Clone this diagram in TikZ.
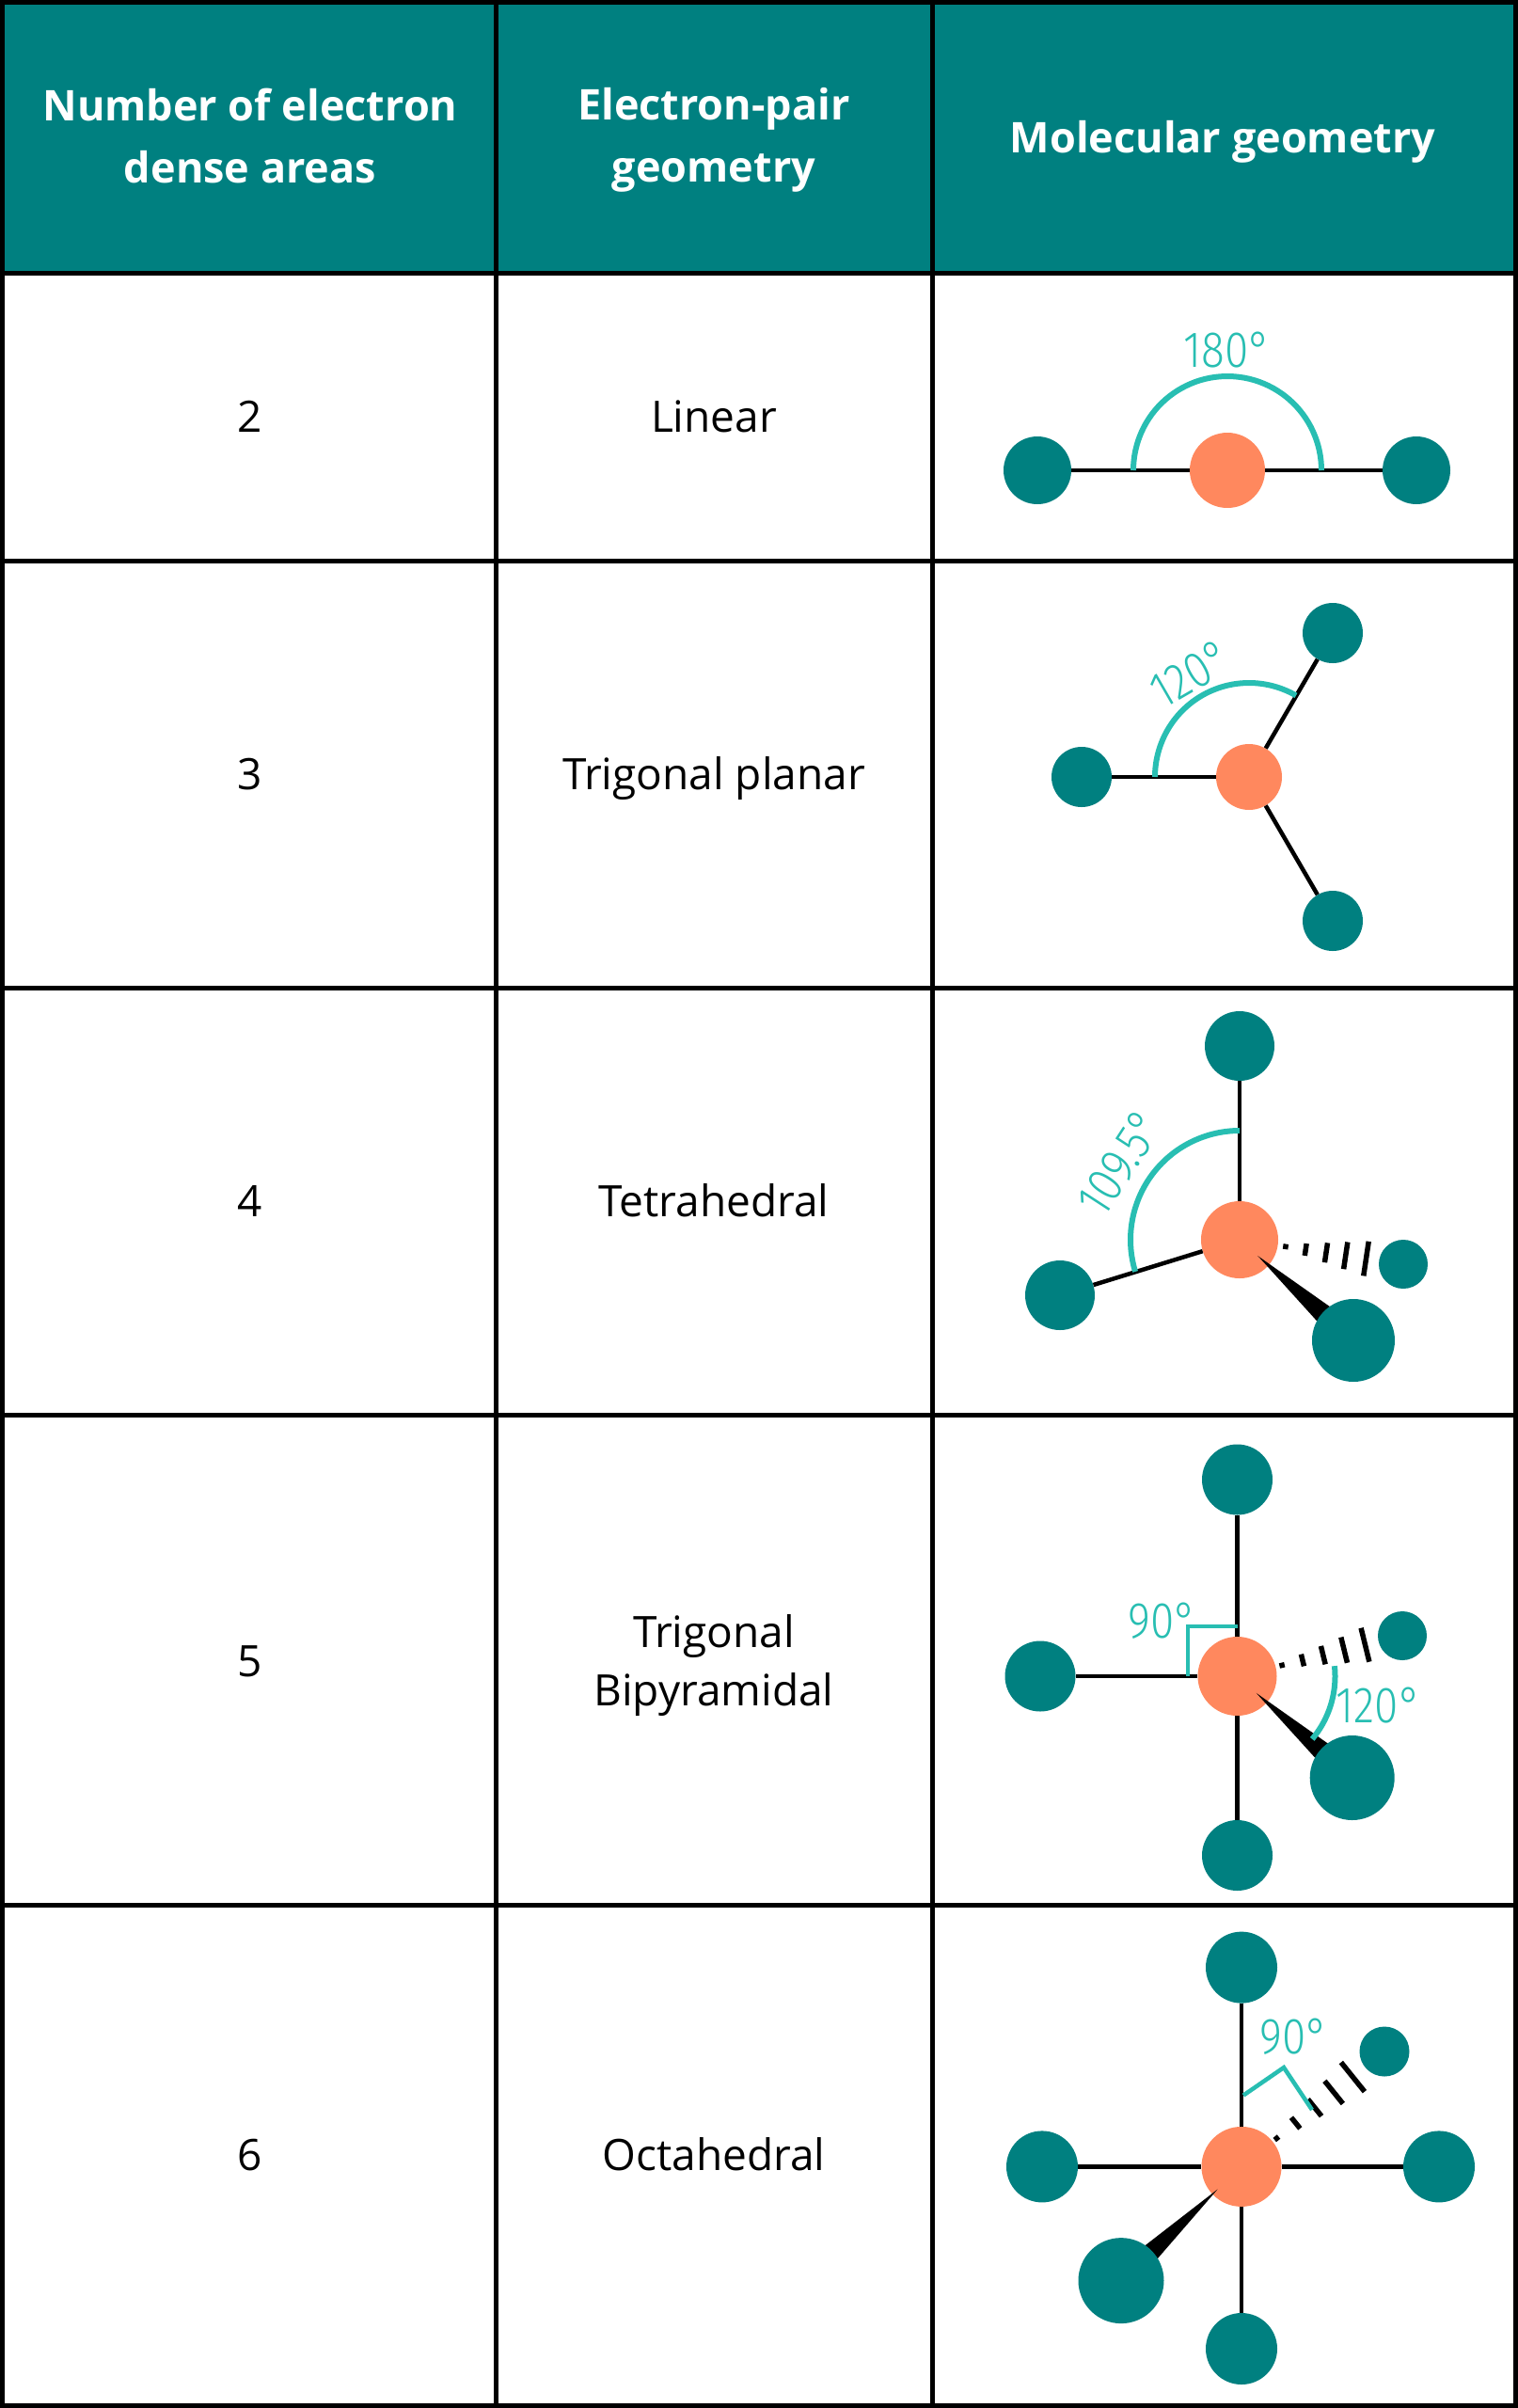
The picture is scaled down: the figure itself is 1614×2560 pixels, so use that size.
\documentclass[tikz,border=0pt]{standalone}
\usepackage{fontspec}
\setmainfont{Open Sans}
\newfontfamily\degfont{Fira Sans Light}[FakeStretch=0.85]
\usetikzlibrary{calc}
\definecolor{hdrteal}{RGB}{0,128,128}
\definecolor{atomteal}{RGB}{0,128,128}
\definecolor{corange}{RGB}{255,136,94}
\definecolor{arcturq}{RGB}{40,190,178}
\begin{document}
\begin{tikzpicture}[x=1pt,y=-1pt,
  atom/.style={circle,fill=atomteal,inner sep=0pt,minimum size=2*#1},
  catom/.style={circle,fill=corange,inner sep=0pt,minimum size=2*#1},
  bond/.style={line width=4.5pt,black},
  hashd/.style={line width=5.5pt,black},
  wedgef/.style={fill=black},
  anglearc/.style={line width=6pt,arcturq},
  rmark/.style={line width=4.5pt,arcturq},
  deg/.style={text=arcturq,font=\degfont\fontsize{54}{60}\selectfont,inner sep=0pt},
  cell/.style={font=\fontsize{46}{62}\selectfont,align=center,inner sep=0pt,text=black},
  hdr/.style={font=\bfseries\fontsize{45}{66}\selectfont,align=center,inner sep=0pt,text=white},
  gridl/.style={line width=5pt,black}
]
\useasboundingbox (0,0) rectangle (1614,2560);
\fill[white] (0,0) rectangle (1614,2560);
\fill[hdrteal] (0,0) rectangle (1614,290);
% grid
\draw[gridl] (2.5,2.5) rectangle (1611.5,2557.5);
\draw[gridl] (527,0) -- (527,2560);
\draw[gridl] (991,0) -- (991,2560);
\foreach \yy in {290,596,1050,1504,2025} \draw[gridl] (0,\yy) -- (1614,\yy);

% header
\node[hdr] (h1) at (266,144) {Number of electron\\dense areas};
\node[hdr] (h2) at (759,149) {Electron-pair\\geometry};
\node[hdr,anchor=base] (h3) at (1300,162) {Molecular geometry};

% column texts
\node[cell,anchor=base] (n2) at (266,459.5) {2};
\node[cell,anchor=base] (g2) at (759,459.5) {Linear};
\node[cell,anchor=base] (n3) at (266,839.5) {3};
\node[cell,anchor=base] (g3) at (759,839.5) {Trigonal planar};
\node[cell,anchor=base] (n4) at (266,1293.5) {4};
\node[cell,anchor=base] (g4) at (759,1293.5) {Tetrahedral};
\node[cell,anchor=base] (n5) at (266,1782) {5};
\node[cell] (g5) at (759,1771) {Trigonal\\Bipyramidal};
\node[cell,anchor=base] (n6) at (266,2307) {6};
\node[cell,anchor=base] (g6) at (759,2307) {Octahedral};

% ---- row 2: linear
\node[catom=40] (C2) at (1305,500) {};
\node[atom=36] (L2) at (1103,500) {};
\node[atom=36] (R2) at (1506,500) {};
\draw[bond] (L2) -- (C2);
\draw[bond] (C2) -- (R2);
\draw[anglearc] plot[domain=180:0,samples=60] ({1305+100*cos(\x)},{500-100*sin(\x)});
\node[deg] (d2) at (1305,372) {180°};

% ---- row 3: trigonal planar
\node[catom=35] (C3) at (1328,826) {};
\node[atom=32] (L3) at (1150,826) {};
\node[atom=32] (U3) at (1417,673) {};
\node[atom=32] (D3) at (1417,979) {};
\draw[bond] (L3) -- (C3);
\draw[bond] (C3) -- (U3);
\draw[bond] (C3) -- (D3);
\draw[anglearc] plot[domain=180:60,samples=60] ({1328+100*cos(\x)},{826-100*sin(\x)});
\node[deg,rotate=30] (d3) at (1266,716) {120°};

% ---- row 4: tetrahedral
\node[catom=41] (C4) at (1318,1318) {};
\node[atom=37] (T4) at (1318,1112) {};
\node[atom=37] (L4) at (1127,1377) {};
\node[atom=26] (B4) at (1492,1344) {};
\draw[bond] (T4) -- (C4);
\draw[bond] (L4) -- (C4);
\foreach \d/\h in {49.5/2.8,71/6.5,93/10.5,114/14.5,136/18.5}
  \draw[hashd] ($(C4)!\d pt!(B4)!\h pt!90:(B4)$) -- ($(C4)!\d pt!(B4)!\h pt!-90:(B4)$);
\coordinate (F4c) at (1439,1425);
\fill[wedgef] ($(C4)!26pt!(F4c)$) -- ($(F4c)!15pt!90:(C4)$) -- ($(F4c)!15pt!-90:(C4)$) -- cycle;
\node[atom=44] (F4) at (F4c) {};
\draw[anglearc] plot[domain=90:197,samples=60] ({1318+116*cos(\x)},{1318-116*sin(\x)});
\node[deg,rotate=57] (d4) at (1191,1236) {109.5°};

% ---- row 5: trigonal bipyramidal
\node[catom=42] (C5) at (1315.5,1782) {};
\node[atom=37.5] (T5) at (1315.5,1573) {};
\node[atom=37.5] (D5) at (1315.5,1972.5) {};
\node[atom=37.5] (L5) at (1106,1782) {};
\node[atom=26] (B5) at (1491,1739) {};
\draw[bond] (T5) -- (C5);
\draw[bond] (C5) -- (D5);
\draw[bond] (L5) -- (C5);
\foreach \d/\h in {49/2.8,71.5/6.5,94/10,117/14,140/18.5}
  \draw[hashd] ($(C5)!\d pt!(B5)!\h pt!90:(B5)$) -- ($(C5)!\d pt!(B5)!\h pt!-90:(B5)$);
\coordinate (F5c) at (1437.7,1890);
\fill[wedgef] ($(C5)!27pt!(F5c)$) -- ($(F5c)!15pt!90:(C5)$) -- ($(F5c)!15pt!-90:(C5)$) -- cycle;
\node[atom=45] (F5) at (F5c) {};
\draw[rmark] ($(C5)+(-52.5,0)$) -- ($(C5)+(-52.5,-53)$) -- ($(C5)+(0,-53)$);
\node[deg] (d5a) at (1236,1723) {90°};
\draw[anglearc] plot[domain=6:-40,samples=40] ({1315.5+104*cos(\x)},{1782-104*sin(\x)});
\node[deg] (d5b) at (1466,1813) {120°};

% ---- row 6: octahedral
\node[catom=42.5] (C6) at (1320,2303.4) {};
\node[atom=38] (T6) at (1320,2091.6) {};
\node[atom=38] (D6) at (1320,2497) {};
\node[atom=38] (L6) at (1108,2303.4) {};
\node[atom=38] (R6) at (1530,2303.4) {};
\node[atom=26.5] (B6) at (1472,2181) {};
\draw[bond] (T6) -- (C6);
\draw[bond] (C6) -- (D6);
\draw[bond] (L6) -- (C6);
\draw[bond] (C6) -- (R6);
\foreach \d/\h in {48/2.8,74/7.5,100/11.5,126/15.5,152/20}
  \draw[hashd] ($(C6)!\d pt!(B6)!\h pt!90:(B6)$) -- ($(C6)!\d pt!(B6)!\h pt!-90:(B6)$);
\coordinate (F6c) at (1192,2424.6);
\fill[wedgef] ($(C6)!35pt!(F6c)$) -- ($(F6c)!14pt!90:(C6)$) -- ($(F6c)!14pt!-90:(C6)$) -- cycle;
\node[atom=45.5] (F6) at (F6c) {};
\draw[rmark] ($(C6)+(2,-75.8)$) -- ($(C6)+(45,-105.4)$) -- ($(C6)+(75,-60.4)$);
\node[deg] (d6) at (1376,2165) {90°};
\end{tikzpicture}
\end{document}
